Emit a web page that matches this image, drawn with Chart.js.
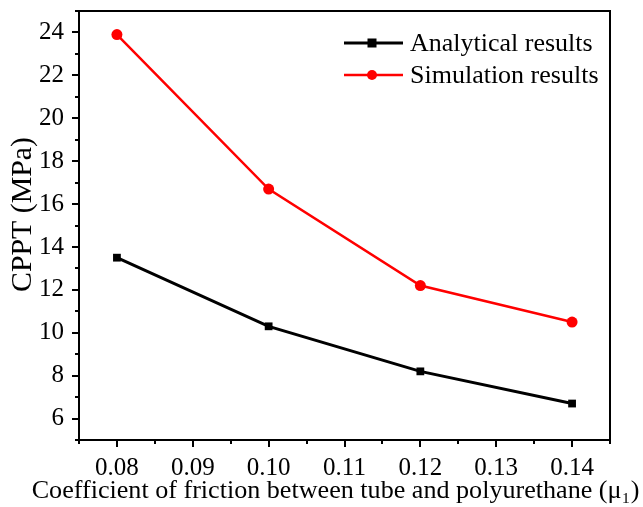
<!DOCTYPE html>
<html>
<head>
<meta charset="utf-8">
<script src="https://cdn.jsdelivr.net/npm/chart.js@4.4.1/dist/chart.umd.min.js"></script>
<style>
html,body{margin:0;padding:0;background:#fff;}
#wrap{width:643px;height:507px;}
</style>
</head>
<body>
<div id="wrap"><canvas id="c" width="643" height="507"></canvas></div>
<script>
const frictionCoeffs = [0.08, 0.10, 0.12, 0.14];
const analytical = [13.5, 10.3, 8.2, 6.7];
const simulation = [23.9, 16.7, 12.2, 10.5];
const xTickValues = [0.08, 0.09, 0.10, 0.11, 0.12, 0.13, 0.14];
const yTickValues = [6, 8, 10, 12, 14, 16, 18, 20, 22, 24];
const seriesNames = ['Analytical results', 'Simulation results'];
const xAxisTitle = 'Coefficient of friction between tube and polyurethane (μ\u2081)';
const yAxisTitle = 'CPPT (MPa)';

const FONT = '"Liberation Serif", "Times New Roman", serif';
const TICK_FS = 25;
const LEGEND_FS = 26;

function fitFont(ctx, text, targetWidth) {
  ctx.font = '100px ' + FONT;
  const w = ctx.measureText(text).width;
  return 100 * targetWidth / w;
}

const framePlugin = {
  id: 'frame',
  afterDraw(chart) {
    const {ctx, chartArea: a, scales} = chart;
    const xs = scales.x, ys = scales.y;
    ctx.save();
    ctx.strokeStyle = '#000';
    ctx.lineWidth = 2;
    ctx.strokeRect(a.left, a.top, a.right - a.left, a.bottom - a.top);
    for (let i = 0; i <= 14; i++) {
      const v = xs.min + i * 0.005;
      const px = Math.round(xs.getPixelForValue(v));
      const major = (i % 2 === 1);
      ctx.beginPath();
      ctx.moveTo(px, a.bottom);
      ctx.lineTo(px, a.bottom + (major ? 7 : 4));
      ctx.stroke();
    }
    for (let v = ys.min; v <= ys.max; v++) {
      const py = Math.round(ys.getPixelForValue(v));
      const major = (v % 2 === 0);
      ctx.beginPath();
      ctx.moveTo(a.left, py);
      ctx.lineTo(a.left - (major ? 7 : 4), py);
      ctx.stroke();
    }
    ctx.fillStyle = '#000';
    ctx.textAlign = 'center';
    ctx.textBaseline = 'middle';
    // x axis title
    const xfs = fitFont(ctx, xAxisTitle, 608);
    ctx.font = xfs + 'px ' + FONT;
    ctx.fillText(xAxisTitle, 335.5, 491);
    // y axis title
    const yfs = fitFont(ctx, yAxisTitle, 155);
    ctx.font = yfs + 'px ' + FONT;
    ctx.save();
    ctx.translate(22, 214.5);
    ctx.rotate(-Math.PI / 2);
    ctx.fillText(yAxisTitle, 0, 1);
    ctx.restore();
    // legend
    const rows = [
      {ds: chart.data.datasets[0], y: 43},
      {ds: chart.data.datasets[1], y: 75}
    ];
    ctx.font = LEGEND_FS + 'px ' + FONT;
    ctx.textBaseline = 'middle';
    ctx.textAlign = 'left';
    rows.forEach(r => {
      ctx.strokeStyle = r.ds.borderColor;
      ctx.lineWidth = r.ds.borderWidth;
      ctx.beginPath();
      ctx.moveTo(344, r.y);
      ctx.lineTo(403, r.y);
      ctx.stroke();
      ctx.fillStyle = r.ds.pointBackgroundColor;
      if (r.ds.pointStyle === 'rect') {
        ctx.fillRect(372 - 4.5, r.y - 4.5, 9, 9);
      } else {
        ctx.beginPath();
        ctx.arc(372, r.y, 5, 0, Math.PI * 2);
        ctx.fill();
      }
      ctx.fillStyle = '#000';
      ctx.fillText(r.ds.label, 410, r.y + 1);
    });
    ctx.restore();
  }
};

new Chart(document.getElementById('c'), {
  type: 'line',
  data: {
    datasets: [
      {
        label: seriesNames[0],
        data: frictionCoeffs.map((x, i) => ({x, y: analytical[i]})),
        borderColor: '#000', backgroundColor: '#000',
        pointBackgroundColor: '#000', pointBorderColor: '#000',
        borderWidth: 3, pointStyle: 'rect', pointRadius: 5.5, pointBorderWidth: 0,
        tension: 0
      },
      {
        label: seriesNames[1],
        data: frictionCoeffs.map((x, i) => ({x, y: simulation[i]})),
        borderColor: '#ff0000', backgroundColor: '#ff0000',
        pointBackgroundColor: '#ff0000', pointBorderColor: '#ff0000',
        borderWidth: 2.5, pointStyle: 'circle', pointRadius: 5.5, pointBorderWidth: 0,
        tension: 0
      }
    ]
  },
  options: {
    responsive: false,
    animation: false,
    layout: {padding: {left: 0, right: 33, top: 11, bottom: 0}},
    plugins: {legend: {display: false}, tooltip: {enabled: false}},
    scales: {
      x: {
        type: 'linear', min: 0.075, max: 0.145,
        afterBuildTicks: s => { s.ticks = xTickValues.map(v => ({value: v})); },
        afterFit: s => { s.height = 67; s.paddingLeft = 0; s.paddingRight = 0; },
        grid: {display: false, drawTicks: false},
        border: {display: false},
        ticks: {color: '#000', font: {family: FONT, size: TICK_FS}, padding: 13,
                maxRotation: 0, autoSkip: false,
                callback: v => Number(v).toFixed(2)},
        title: {display: false}
      },
      y: {
        type: 'linear', min: 5, max: 25,
        afterBuildTicks: s => { s.ticks = yTickValues.map(v => ({value: v})); },
        afterFit: s => { s.width = 79; s.paddingTop = 0; s.paddingBottom = 0; },
        grid: {display: false, drawTicks: false},
        border: {display: false},
        ticks: {color: '#000', font: {family: FONT, size: TICK_FS}, padding: 15, autoSkip: false},
        title: {display: false}
      }
    }
  },
  plugins: [framePlugin]
});
</script>
</body>
</html>
